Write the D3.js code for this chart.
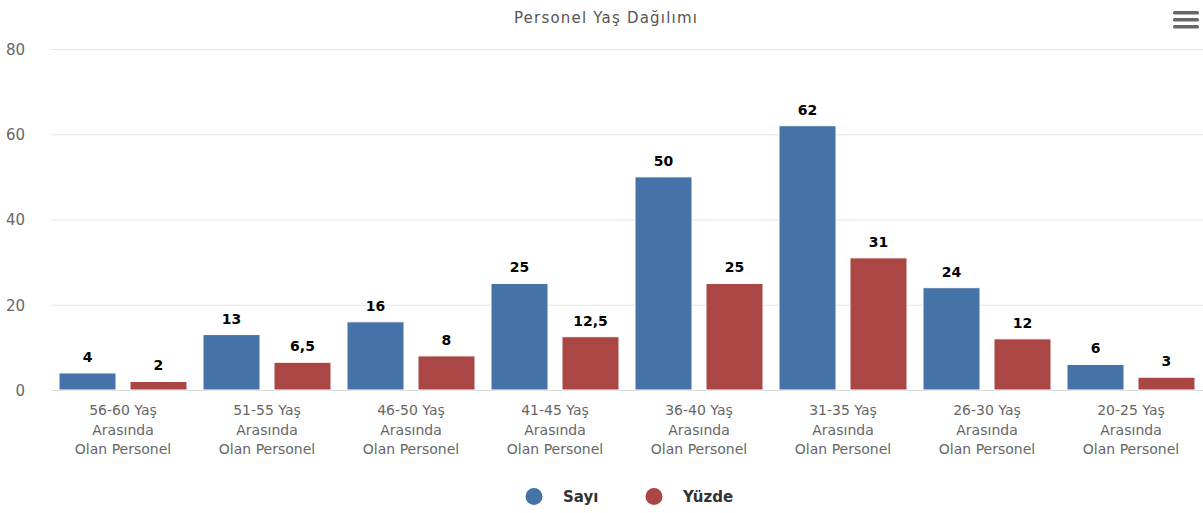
<!DOCTYPE html>
<html>
<head>
  <meta charset="utf-8">
  <title>Personel Yaş Dağılımı</title>
  <style>
    body { margin: 0; background: #fff; }
    svg { display: block; font-family: "DejaVu Sans", Verdana, sans-serif; }
    .grid line { stroke: #e6e6e6; stroke-width: 1; }
    .grid .domain { display: none; }
    .yaxis .domain { display: none; }
    .yaxis line { display: none; }
    .yaxis text { fill: #666; font-size: 15px; font-family: "DejaVu Sans", Verdana, sans-serif; }
    .xaxis .domain { stroke: #d8d8d8; }
    .xaxis line { display: none; }
    .xaxis text { fill: #666; font-size: 14px; font-family: "DejaVu Sans", Verdana, sans-serif; }
  </style>
</head>
<body>
  <svg width="1203" height="513"></svg>
  <script src="https://d3js.org/d3.v7.min.js"></script>
  <script>
    // data
    var categories = ["56-60 Yaş Arasında Olan Personel", "51-55 Yaş Arasında Olan Personel",
                      "46-50 Yaş Arasında Olan Personel", "41-45 Yaş Arasında Olan Personel",
                      "36-40 Yaş Arasında Olan Personel", "31-35 Yaş Arasında Olan Personel",
                      "26-30 Yaş Arasında Olan Personel", "20-25 Yaş Arasında Olan Personel"];
    var sayi = [4, 13, 16, 25, 50, 62, 24, 6];
    var yuzde = [2, 6.5, 8, 12.5, 25, 31, 12, 3];
    var seriesNames = ["Sayı", "Yüzde"];
    var yTicks = [0, 20, 40, 60, 80];

    var colors = {"Sayı": "#4572a7", "Yüzde": "#aa4643"};

    var svg = d3.select("svg"),
        margin = {top: 49, right: 0, bottom: 123, left: 51},
        width = +svg.attr("width") - margin.left - margin.right,
        height = +svg.attr("height") - margin.top - margin.bottom;

    var graph = svg.append("g").attr("transform", "translate(" + margin.left + "," + margin.top + ")");

    var x0 = d3.scaleBand().domain(categories).range([0, width]).padding(0);
    var x1 = d3.scaleBand().domain(seriesNames).range([8, x0.bandwidth() - 8]).paddingInner(0.197);
    var y = d3.scaleLinear().domain([0, 80]).range([height, 0]);

    // gridlines
    graph.append("g")
        .attr("class", "grid")
        .call(d3.axisLeft(y).tickValues(yTicks.slice(1)).tickSize(-width).tickFormat(""));

    // y axis labels
    graph.append("g")
        .attr("class", "yaxis")
        .attr("transform", "translate(-23,0)")
        .call(d3.axisLeft(y).tickValues(yTicks).tickSize(0))
      .selectAll("text")
        .attr("dy", "0.35em");

    // x axis, labels split on three lines
    var xAxis = graph.append("g")
        .attr("class", "xaxis")
        .attr("transform", "translate(0," + height + ")")
        .call(d3.axisBottom(x0).tickSize(0));

    xAxis.selectAll("text").each(function(d) {
      var t = d3.select(this).text("").attr("y", 25).attr("dy", 0);
      var parts = d.split(" ");
      var lines = [parts[0] + " " + parts[1], parts[2], parts[3] + " " + parts[4]];
      lines.forEach(function(l, i) {
        t.append("tspan").attr("x", 0).attr("y", 25 + i * 19.5).text(l);
      });
    });

    // bars
    var rows = categories.map(function(c, i) {
      return {cat: c, values: [{key: "Sayı", value: sayi[i]}, {key: "Yüzde", value: yuzde[i]}]};
    });

    var groups = graph.append("g")
      .selectAll("g")
      .data(rows)
      .enter().append("g")
        .attr("transform", function(d) { return "translate(" + x0(d.cat) + ",0)"; });

    groups.selectAll("rect")
      .data(function(d) { return d.values; })
      .enter().append("rect")
        .attr("x", function(d) { return x1(d.key); })
        .attr("y", function(d) { return y(d.value); })
        .attr("width", x1.bandwidth())
        .attr("height", function(d) { return height - y(d.value); })
        .attr("fill", function(d) { return colors[d.key]; })
        .attr("stroke", "#fff")
        .attr("stroke-width", 1);

    // data labels
    groups.selectAll("text.lbl")
      .data(function(d) { return d.values; })
      .enter().append("text")
        .attr("class", "lbl")
        .attr("x", function(d) { return x1(d.key) + x1.bandwidth() / 2; })
        .attr("y", function(d) { return y(d.value) - 11; })
        .attr("text-anchor", "middle")
        .attr("font-size", 14)
        .attr("font-weight", "bold")
        .attr("fill", "#000")
        .text(function(d) { return String(d.value).replace(".", ","); });

    // title
    svg.append("text")
        .attr("x", 606)
        .attr("y", 23)
        .attr("text-anchor", "middle")
        .attr("font-size", 15)
        .attr("letter-spacing", 1.2)
        .attr("fill", "#555")
        .text("Personel Yaş Dağılımı");

    // menu icon
    svg.append("g").selectAll("rect")
      .data([0, 1, 2])
      .enter().append("rect")
        .attr("x", 1173)
        .attr("y", function(d) { return 11 + d * 7; })
        .attr("width", 26)
        .attr("height", 3.5)
        .attr("rx", 1.5)
        .attr("fill", "#666");

    // legend
    var legendX = [534, 654];
    var legend = svg.append("g")
      .selectAll("g")
      .data(seriesNames)
      .enter().append("g")
        .attr("transform", function(d, i) { return "translate(" + legendX[i] + ",496.5)"; });

    legend.append("circle")
        .attr("r", 8.5)
        .attr("fill", function(d) { return colors[d]; });

    legend.append("text")
        .attr("x", 29)
        .attr("dy", "0.35em")
        .attr("font-size", 15)
        .attr("font-weight", "bold")
        .attr("fill", "#333")
        .text(function(d) { return d; });
  </script>
</body>
</html>
